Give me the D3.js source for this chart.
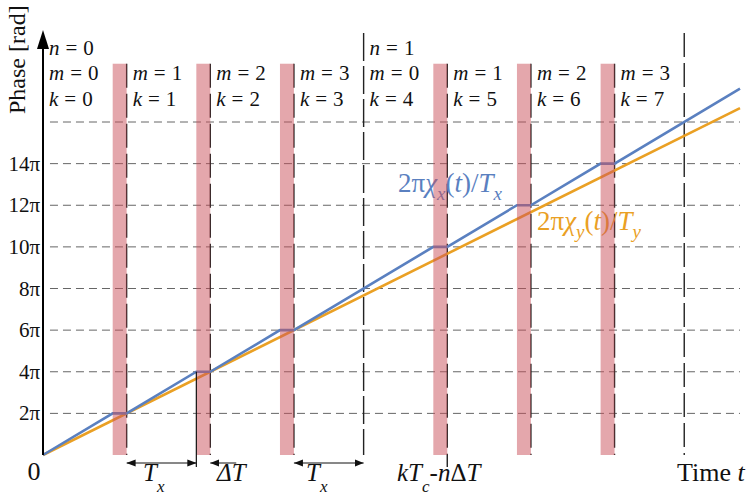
<!DOCTYPE html>
<html>
<head>
<meta charset="utf-8">
<script src="https://cdn.jsdelivr.net/npm/d3@7"></script>
<style>
  body { margin: 0; background: #fff; }
  text { font-family: "Liberation Serif", "Times New Roman", serif; fill: #111; }
</style>
</head>
<body>
<svg id="chart"></svg>
<script>
// time in units of Tx, phase in units of pi
var gridLevels = [2, 4, 6, 8, 10, 12, 14, 16];
var tickLabels = ['2π', '4π', '6π', '8π', '10π', '12π', '14π', ''];
var bandStarts = [1.0, 2.2, 3.4, 5.6, 6.8, 8.0];
var deltaT = 0.2;
var markTimes = [1.2, 2.4, 3.6, 4.6, 5.8, 7.0, 8.2, 9.2];
var markStyle = ['dash', 'dash', 'dash', 'solid', 'dash', 'dash', 'dash', 'dash'];
var phaseXTime = [0, 1, 1.2, 2.2, 2.4, 3.4, 3.6, 5.6, 5.8, 6.8, 7.0, 8.0, 8.2, 10];
var phaseXValue = [0, 2, 2, 4, 4, 6, 6, 10, 10, 12, 12, 14, 14, 17.6];
var phaseYTime = [0, 10];
var phaseYValue = [0, 16.67];
var colLabels = [
  { t: 0, n: 0, m: 0, k: 0 },
  { t: 1.2, m: 1, k: 1 },
  { t: 2.4, m: 2, k: 2 },
  { t: 3.6, m: 3, k: 3 },
  { t: 4.6, n: 1, m: 0, k: 4 },
  { t: 5.8, m: 1, k: 5 },
  { t: 7.0, m: 2, k: 6 },
  { t: 8.2, m: 3, k: 7 }
];

var width = 750;
var height = 498;
var blue = '#5a80c0';
var orange = '#eaa024';

var svg = d3.select('#chart')
  .attr('width', width)
  .attr('height', height);

var x = d3.scaleLinear().domain([0, 10]).range([43, 740]);
var y = d3.scaleLinear().domain([0, 16]).range([455, 122]);

// horizontal dashed grid
svg.selectAll('line.grid')
  .data(gridLevels)
  .enter()
  .append('line')
    .attr('class', 'grid')
    .attr('x1', x(0.1))
    .attr('x2', x(10))
    .attr('y1', function(d) { return y(d); })
    .attr('y2', function(d) { return y(d); })
    .style('stroke', '#666')
    .style('stroke-width', 1)
    .style('stroke-dasharray', '8,5');

// y tick labels
svg.selectAll('text.tick')
  .data(gridLevels)
  .enter()
  .append('text')
    .attr('class', 'tick')
    .attr('x', 40)
    .attr('y', function(d) { return y(d) + 7; })
    .attr('text-anchor', 'end')
    .style('font-size', '21px')
    .text(function(d, i) { return tickLabels[i]; });

svg.append('text')
  .attr('x', 34)
  .attr('y', 480)
  .attr('text-anchor', 'middle')
  .style('font-size', '26px')
  .text('0');

// vertical markers
svg.selectAll('line.mark')
  .data(markTimes)
  .enter()
  .append('line')
    .attr('class', 'mark')
    .attr('x1', function(d) { return x(d); })
    .attr('x2', function(d) { return x(d); })
    .attr('y1', function(d, i) { return (markStyle[i] === 'solid' || i === markTimes.length - 1) ? 33 : y(18.8); })
    .attr('y2', function(d, i) { return i === 4 ? 467 : y(0); })
    .style('stroke', '#222')
    .style('stroke-width', 1.4)
    .style('stroke-dasharray', function(d, i) { return markStyle[i] === 'solid' ? '28,5' : '24,6'; });

// lines
var line = d3.line()
  .x(function(d) { return x(d[0]); })
  .y(function(d) { return y(d[1]); });

svg.append('path')
  .datum(phaseYTime.map(function(t, i) { return [t, phaseYValue[i]]; }))
  .attr('d', line)
  .style('fill', 'none')
  .style('stroke', orange)
  .style('stroke-width', 2.6);

svg.append('path')
  .datum(phaseXTime.map(function(t, i) { return [t, phaseXValue[i]]; }))
  .attr('d', line)
  .style('fill', 'none')
  .style('stroke', blue)
  .style('stroke-width', 2.6);

// curve labels
function subLabel(px, py, color, sub) {
  var t = svg.append('text')
    .attr('x', px)
    .attr('y', py)
    .style('font-size', '27px')
    .style('fill', color);
  t.append('tspan').text('2π');
  t.append('tspan').style('font-style', 'italic').text('χ');
  t.append('tspan').attr('dy', 8).style('font-size', '19px').style('font-style', 'italic').text(sub);
  t.append('tspan').attr('dy', -8).text('(');
  t.append('tspan').style('font-style', 'italic').text('t');
  t.append('tspan').text(')/');
  t.append('tspan').style('font-style', 'italic').text('T');
  t.append('tspan').attr('dy', 8).style('font-size', '19px').style('font-style', 'italic').text(sub);
}
subLabel(398, 192, blue, 'x');
subLabel(537, 230, orange, 'y');

// shaded gaps
svg.selectAll('rect.band')
  .data(bandStarts)
  .enter()
  .append('rect')
    .attr('class', 'band')
    .attr('x', function(d) { return x(d); })
    .attr('y', y(18.8))
    .attr('width', function(d) { return x(d + deltaT) - x(d); })
    .attr('height', y(0) - y(18.8))
    .style('fill', '#c9505a')
    .style('opacity', 0.5);

// y axis with arrow
svg.append('line')
  .attr('x1', x(0)).attr('x2', x(0))
  .attr('y1', y(0)).attr('y2', 44)
  .style('stroke', '#000')
  .style('stroke-width', 2);
svg.append('path')
  .attr('d', 'M' + x(0) + ',30 L' + (x(0) - 6) + ',49 L' + (x(0) + 6) + ',49 Z')
  .style('fill', '#000');

svg.append('text')
  .attr('transform', 'translate(25,114) rotate(-90)')
  .style('font-size', '24px')
  .text('Phase [rad]');

// top labels n, m, k
var rows = [['n', 55], ['m', 80], ['k', 106]];
colLabels.forEach(function(c) {
  rows.forEach(function(r) {
    if (c[r[0]] === undefined) return;
    var t = svg.append('text')
      .attr('x', x(c.t) + 6)
      .attr('y', r[1])
      .style('font-size', '21px');
    t.append('tspan').style('font-style', 'italic').text(r[0]);
    t.append('tspan').attr('dx', 6).text('=');
    t.append('tspan').attr('dx', 6).text(c[r[0]]);
  });
});

// bottom annotations
svg.append('defs').append('marker')
  .attr('id', 'ah')
  .attr('viewBox', '0 0 10 10')
  .attr('refX', 10).attr('refY', 5)
  .attr('markerWidth', 9).attr('markerHeight', 9)
  .attr('markerUnits', 'userSpaceOnUse')
  .attr('orient', 'auto-start-reverse')
  .append('path')
    .attr('d', 'M0,1 L10,5 L0,9 Z')
    .style('fill', '#111');

svg.append('line')
  .attr('x1', x(2.2)).attr('x2', x(2.2))
  .attr('y1', y(4)).attr('y2', 467)
  .style('stroke', '#111')
  .style('stroke-width', 1.2);

function arrow(x1, x2, both) {
  svg.append('line')
    .attr('x1', x1).attr('x2', x2)
    .attr('y1', 463).attr('y2', 463)
    .style('stroke', '#111')
    .style('stroke-width', 1)
    .attr('marker-end', 'url(#ah)')
    .attr('marker-start', both ? 'url(#ah)' : null);
}
arrow(x(1.2), x(2.2), true);
arrow(x(2.4) + 26, x(2.4), false);
arrow(x(3.6), x(4.6), true);

function tLabel(px, pre, sub, post) {
  var t = svg.append('text')
    .attr('x', px)
    .attr('y', 481)
    .style('font-size', '25px')
    .style('font-style', 'italic');
  t.append('tspan').text(pre);
  if (sub) t.append('tspan').attr('dy', 11).style('font-size', '17px').text(sub);
  return t;
}
tLabel(143, 'T', 'x');
tLabel(217, 'ΔT');
tLabel(306, 'T', 'x');
var kt = tLabel(397, 'kT', 'c');
kt.append('tspan').attr('dy', -11).style('font-style', 'normal').text('-');
kt.append('tspan').text('n');
kt.append('tspan').style('font-style', 'normal').text('Δ');
kt.append('tspan').text('T');

var tt = svg.append('text')
  .attr('x', 677)
  .attr('y', 481)
  .style('font-size', '26px');
tt.append('tspan').text('Time ');
tt.append('tspan').style('font-style', 'italic').text('t');
</script>
</body>
</html>
